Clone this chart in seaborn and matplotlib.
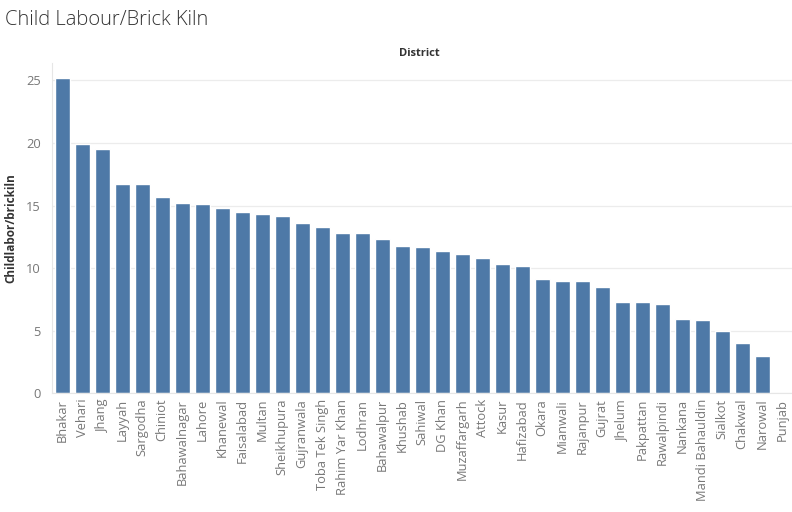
import pandas as pd
import matplotlib.pyplot as plt
import seaborn as sns

districts = ['Bhakar', 'Vehari', 'Jhang', 'Layyah', 'Sargodha', 'Chiniot', 'Bahawalnagar',
             'Lahore', 'Khanewal', 'Faisalabad', 'Multan', 'Sheikhupura', 'Gujranwala',
             'Toba Tek Singh', 'Rahim Yar Khan', 'Lodhran', 'Bahawalpur', 'Khushab',
             'Sahiwal', 'DG Khan', 'Muzaffargarh', 'Attock', 'Kasur', 'Hafizabad', 'Okara',
             'Mianwali', 'Rajanpur', 'Gujrat', 'Jhelum', 'Pakpattan', 'Rawalpindi',
             'Nankana', 'Mandi Bahauldin', 'Sialkot', 'Chakwal', 'Narowal', 'Punjab']
child_per_kiln = [25.2, 19.9, 19.5, 16.75, 16.75, 15.7, 15.2, 15.1, 14.8, 14.5, 14.35,
                  14.2, 13.6, 13.3, 12.8, 12.8, 12.35, 11.8, 11.7, 11.4, 11.15, 10.8,
                  10.35, 10.2, 9.1, 8.95, 8.95, 8.5, 7.3, 7.3, 7.1, 5.9, 5.85, 4.95,
                  4.0, 2.95, 0.0]
yticks = [0, 5, 10, 15, 20, 25]

df = pd.DataFrame({'District': districts, 'Childlabor/brickiln': child_per_kiln})

sns.set_style("white")
plt.rcParams['font.family'] = ['Open Sans', 'DejaVu Sans']

fig = plt.figure(figsize=(7.92, 5.12), dpi=100)
ax = fig.add_axes([0.0657, 0.232, 0.9343, 0.645])

sns.barplot(data=df, x='District', y='Childlabor/brickiln', order=districts,
            color='#4e79a7', saturation=1, width=0.75, ax=ax)

ax.set_xlim(-0.5, 36.5)
ax.set_ylim(0, 26.4)
ax.set_yticks(yticks)
ax.yaxis.grid(True, color='#ececec', linewidth=0.9)
ax.set_axisbelow(True)

for s in ['top', 'right']:
    ax.spines[s].set_visible(False)
ax.spines['left'].set_color('#e6e6e6')
ax.spines['bottom'].set_color('#e6e6e6')

ax.tick_params(axis='x', rotation=90, labelsize=9.3, labelcolor='#777777', length=0, pad=4)
ax.tick_params(axis='y', labelsize=9.3, labelcolor='#777777', length=0, pad=8)
# small separators between categories like tableau
ax.set_xticks([i + 0.5 for i in range(-1, 37)], minor=True)
ax.tick_params(axis='x', which='minor', length=4, color='#e6e6e6')

ax.set_xlabel('')
ax.set_ylabel('Childlabor/brickiln', fontsize=8.5, fontweight='bold', color='#333333', labelpad=6)

fig.text(0.006, 0.96, 'Child Labour/Brick Kiln', fontsize=14.5, color='#333333',
         fontweight='light', va='center', ha='left')
fig.text(0.53, 0.895, 'District', fontsize=8, fontweight='bold', color='#333333',
         va='center', ha='center')

fig.savefig('out.png', dpi=100)
